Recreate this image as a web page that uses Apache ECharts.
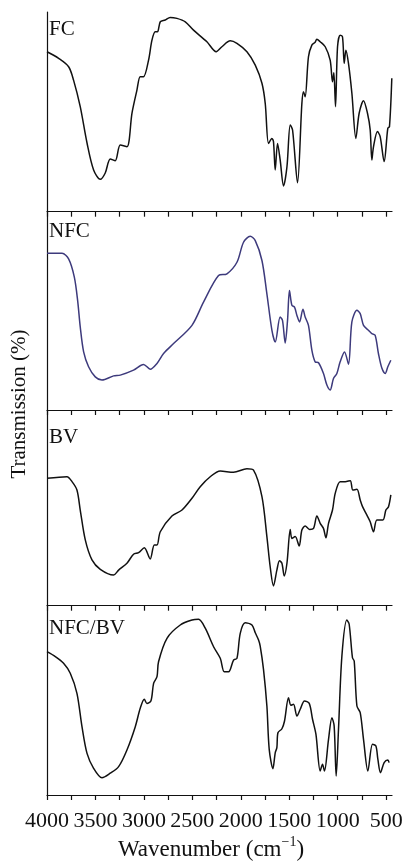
<!DOCTYPE html>
<html>
<head>
<meta charset="utf-8">
<script src="https://cdn.jsdelivr.net/npm/echarts@6/dist/echarts.min.js"></script>
<style>
  html, body { margin: 0; padding: 0; background: #fff; }
  #ftir { width: 405px; height: 862px; }
</style>
</head>
<body>
<div id="ftir"></div>
<script>
// wavenumber (cm-1) and transmission (relative %)
const wnFC = [4000, 3880, 3777, 3726, 3657, 3587, 3519, 3450, 3399, 3347, 3296, 3244, 3175, 3123, 3072, 3038, 3004, 2952, 2917, 2883, 2860, 2831, 2780, 2729, 2659, 2573, 2488, 2350, 2254, 2195, 2109, 2040, 1937, 1851, 1782, 1748, 1714, 1679, 1663, 1645, 1621, 1594, 1559, 1524, 1490, 1466, 1415, 1370, 1353, 1336, 1302, 1267, 1233, 1216, 1181, 1129, 1078, 1054, 1040, 1023, 1002, 975, 951, 933, 916, 889, 854, 813, 779, 734, 693, 665, 648, 631, 590, 562, 521, 483, 466, 442];
const tFC = [80.1, 76.8, 72.6, 65.9, 52.6, 34.4, 20.9, 16.2, 19.4, 26.4, 25.5, 33.4, 32.5, 49.4, 60.9, 67.6, 67.6, 75.9, 85.9, 90.1, 90.1, 95.1, 96.0, 97.3, 96.8, 95.1, 90.9, 85.1, 80.1, 82.6, 85.6, 84.3, 80.1, 73.4, 64.3, 54.2, 34.2, 36.7, 35.1, 20.9, 34.2, 25.9, 12.9, 22.5, 43.4, 40.9, 14.5, 54.2, 60.1, 57.6, 77.6, 83.4, 84.8, 86.3, 85.1, 82.6, 75.9, 65.1, 69.6, 52.6, 82.6, 88.4, 87.6, 74.3, 80.9, 74.3, 59.3, 36.7, 49.3, 55.6, 49.3, 40.9, 25.9, 32.5, 40.1, 37.6, 25.1, 41.8, 42.6, 66.8];

const wnNFC = [4000, 3845, 3777, 3718, 3684, 3657, 3622, 3571, 3502, 3433, 3313, 3244, 3107, 3004, 2935, 2865, 2797, 2694, 2504, 2385, 2230, 2143, 2040, 1972, 1903, 1851, 1782, 1731, 1679, 1645, 1594, 1570, 1542, 1518, 1498, 1473, 1446, 1421, 1394, 1359, 1336, 1302, 1267, 1233, 1198, 1147, 1112, 1078, 1044, 1009, 975, 930, 889, 854, 802, 768, 734, 683, 648, 614, 580, 544, 510, 483, 452];
const tNFC = [79.0, 79.0, 76.2, 67.0, 55.3, 41.9, 29.3, 21.8, 16.7, 15.1, 17.2, 17.6, 20.1, 23.0, 20.6, 23.5, 28.5, 33.5, 42.7, 54.4, 67.8, 68.7, 74.5, 84.6, 87.6, 85.4, 75.4, 58.6, 40.2, 34.3, 46.9, 45.2, 33.8, 45.2, 60.3, 52.8, 51.9, 47.7, 44.4, 50.8, 46.9, 42.7, 30.2, 24.3, 23.8, 18.4, 12.6, 10.1, 15.9, 18.4, 24.3, 29.3, 23.1, 44.4, 50.3, 48.6, 42.7, 40.2, 38.5, 37.7, 28.5, 21.0, 18.4, 21.8, 25.1];

const wnBV = [4000, 3794, 3742, 3691, 3657, 3605, 3536, 3450, 3313, 3261, 3175, 3107, 3055, 2996, 2935, 2893, 2865, 2831, 2711, 2607, 2504, 2419, 2316, 2212, 2075, 1937, 1869, 1782, 1731, 1697, 1663, 1628, 1601, 1576, 1552, 1524, 1490, 1473, 1439, 1398, 1370, 1336, 1291, 1250, 1215, 1181, 1147, 1122, 1095, 1054, 1026, 975, 923, 871, 844, 802, 768, 744, 699, 665, 631, 596, 534, 503, 476, 452];
const tBV = [65.1, 65.9, 63.4, 59.1, 48.9, 33.6, 23.4, 18.6, 15.7, 18.2, 21.7, 26.3, 27.1, 29.6, 23.9, 31.0, 31.0, 37.8, 45.8, 48.9, 54.9, 60.8, 65.9, 68.8, 68.2, 70.0, 69.3, 55.7, 35.3, 19.9, 10.1, 18.2, 23.0, 21.7, 15.2, 21.7, 39.0, 34.4, 35.3, 30.5, 38.7, 40.7, 39.0, 39.5, 45.8, 42.1, 39.5, 34.7, 42.1, 48.9, 57.4, 63.4, 63.4, 63.9, 59.1, 59.5, 54.0, 50.6, 46.3, 42.9, 37.8, 43.8, 43.8, 48.9, 50.6, 56.6];

const wnMix = [4000, 3914, 3829, 3760, 3691, 3639, 3587, 3519, 3433, 3347, 3261, 3175, 3089, 3038, 2996, 2969, 2927, 2900, 2865, 2849, 2762, 2625, 2504, 2436, 2367, 2281, 2212, 2171, 2126, 2075, 2040, 2006, 1955, 1885, 1851, 1817, 1800, 1766, 1731, 1707, 1669, 1645, 1628, 1617, 1576, 1549, 1508, 1483, 1456, 1421, 1387, 1343, 1294, 1260, 1225, 1181, 1157, 1137, 1095, 1060, 1037, 1016, 992, 957, 906, 882, 848, 830, 802, 768, 734, 689, 641, 606, 586, 559, 521, 483, 470];
const tMix = [75.7, 73.1, 69.6, 64.3, 53.7, 36.1, 22.0, 14.1, 9.1, 11.5, 15.0, 23.8, 36.1, 45.8, 50.6, 48.4, 49.8, 59.0, 62.5, 70.4, 82.8, 89.8, 92.4, 92.8, 88.1, 78.3, 72.2, 65.1, 65.1, 71.3, 72.2, 85.4, 91.0, 89.8, 85.7, 81.9, 78.7, 66.4, 47.0, 24.1, 13.9, 22.3, 25.0, 32.9, 35.0, 39.1, 51.4, 47.4, 47.9, 41.7, 45.3, 49.7, 48.4, 40.0, 32.1, 12.7, 16.2, 12.7, 29.4, 40.8, 36.5, 10.0, 34.7, 73.4, 92.4, 90.2, 72.5, 70.8, 47.0, 43.5, 29.4, 12.7, 26.8, 25.9, 18.9, 11.8, 17.1, 18.5, 17.1];

const panelNames = ['FC', 'NFC', 'BV', 'NFC/BV'];
const tickValues = [4000, 3750, 3500, 3250, 3000, 2750, 2500, 2250, 2000, 1750, 1500, 1250, 1000, 750, 500];
const labelValues = [4000, 3500, 3000, 2500, 2000, 1500, 1000, 500];

const serif = '"Liberation Serif", "Times New Roman", serif';
const panels = [
  { wn: wnFC, t: tFC, color: '#111111', top: 12, height: 199.7 },
  { wn: wnNFC, t: tNFC, color: '#3d3a7c', top: 211.7, height: 198.3 },
  { wn: wnBV, t: tBV, color: '#111111', top: 410, height: 195.7 },
  { wn: wnMix, t: tMix, color: '#111111', top: 605.7, height: 189.3 }
];

const chart = echarts.init(document.getElementById('ftir'));

const grids = panels.map(p => ({ left: 47, right: 13, top: p.top, height: p.height, outerBoundsMode: 'none', containLabel: false }));

const xAxes = panels.map((p, i) => ({
  type: 'value',
  gridIndex: i,
  min: 440,
  max: 4000,
  inverse: true,
  splitLine: { show: false },
  axisLine: { show: true, lineStyle: { color: '#111', width: 1.2 } },
  axisTick: { show: true, inside: false, length: 5, customValues: tickValues, lineStyle: { color: '#111', width: 1.2 } },
  axisLabel: {
    show: i === 3,
    customValues: labelValues,
    formatter: v => String(v),
    margin: 15,
    color: '#111',
    fontFamily: serif,
    fontSize: 22
  }
}));

const yAxes = panels.map((p, i) => ({
  type: 'value',
  gridIndex: i,
  min: 0,
  max: 100,
  splitLine: { show: false },
  axisLine: { show: true, lineStyle: { color: '#111', width: 1.2 } },
  axisTick: { show: false },
  axisLabel: { show: false }
}));

const series = panels.map((p, i) => ({
  name: panelNames[i],
  type: 'line',
  xAxisIndex: i,
  yAxisIndex: i,
  data: p.wn.map((w, k) => [w, p.t[k]]),
  showSymbol: false,
  smooth: 0.3,
  lineStyle: { color: p.color, width: 1.5 },
  silent: true
}));

const labelTops = [29.5, 232, 438, 629];

const option = {
  animation: false,
  grid: grids,
  xAxis: xAxes,
  yAxis: yAxes,
  series: series,
  graphic: [
    ...panelNames.map((n, i) => ({
      type: 'text',
      left: 49,
      top: labelTops[i] - 11,
      style: { text: n, font: '21px ' + serif, fill: '#111' }
    })),
    {
      type: 'text',
      x: 19,
      y: 404,
      rotation: Math.PI / 2,
      style: {
        text: 'Transmission (%)',
        font: '21px ' + serif,
        fill: '#111',
        align: 'center',
        verticalAlign: 'middle'
      }
    },
    {
      type: 'text',
      x: 211,
      y: 848,
      style: {
        text: '{a|Wavenumber (cm}{s|−1}{a|)}',
        align: 'center',
        verticalAlign: 'middle',
        rich: {
          a: { fontFamily: serif, fontSize: 23, fill: '#111', lineHeight: 26, verticalAlign: 'bottom' },
          s: { fontFamily: serif, fontSize: 14, fill: '#111', lineHeight: 26, verticalAlign: 'top' }
        }
      }
    }
  ]
};

chart.setOption(option);
</script>
</body>
</html>
